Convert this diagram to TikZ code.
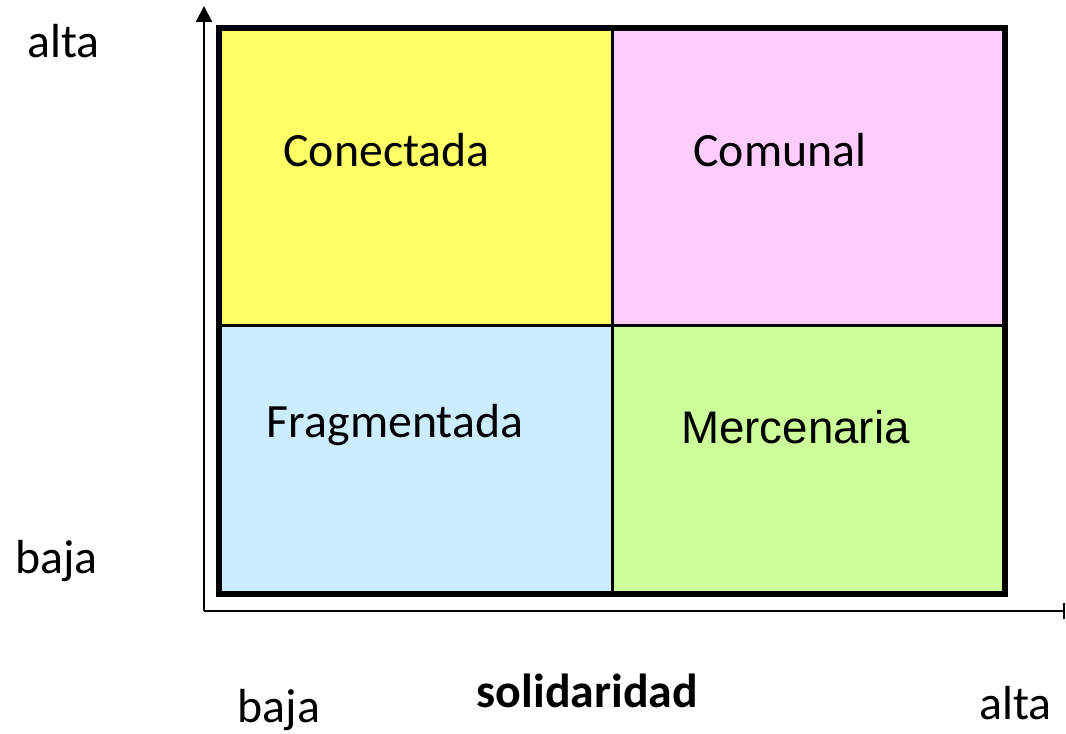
\documentclass[tikz,border=0pt]{standalone}
\usepackage{fontspec}
\setmainfont{Carlito}
\newfontfamily\arialfont{Liberation Sans}
\usetikzlibrary{arrows.meta}
\definecolor{giallo}{HTML}{FFFF66}
\definecolor{rosa}{HTML}{FFCCFF}
\definecolor{celeste}{HTML}{CCECFF}
\definecolor{verde}{HTML}{CCFF99}
\begin{document}
\begin{tikzpicture}[x=0.025cm,y=-0.025cm,
  lab/.style={anchor=base,inner sep=0pt,font=\fontsize{34}{40}\selectfont},
  asse/.style={line width=1.5pt}]

\useasboundingbox (0,0) rectangle (1066,734);

%quadranti
\coordinate (o) at (219,28);
\coordinate (m) at (612.5,325.5);
\coordinate (z) at (1005,594);

\draw[fill=giallo,draw=none] (o) rectangle (m);
\draw[fill=rosa,draw=none] (m |- o) rectangle (z |- m);
\draw[fill=celeste,draw=none] (o |- m) rectangle (m |- z);
\draw[fill=verde,draw=none] (m) rectangle (z);

\draw[line width=2.2pt] (m |- o) -- (m |- z);
\draw[line width=2.2pt] (o |- m) -- (z |- m);
\draw[line width=4.3pt] (o) rectangle (z);

%assi
\coordinate (zero) at (204,611);
\coordinate (ytop) at (204,6);
\coordinate (xend) at (1065,611);

\draw[asse,-{Triangle[length=0.4cm,width=0.4cm]}] (zero) -- (ytop);
\draw[asse,-{Bar[width=0.4cm]}] (zero) -- (xend);

%etichette
\node[lab] (conectada) at (386.5,167) {Conectada};
\node[lab] (comunal) at (780,167) {Comunal};
\node[lab] (fragmentada) at (395,438) {Fragmentada};
\node[lab,font=\arialfont\fontsize{32.5}{40}\selectfont] (mercenaria) at (795.5,444) {Mercenaria};

\node[lab] (yalta) at (63.5,58) {alta};
\node[lab] (ybaja) at (56.5,573) {baja};
\node[lab] (xbaja) at (279,722) {baja};
\node[lab,font=\fontsize{34}{40}\selectfont\bfseries] (solid) at (587.5,707) {solidaridad};
\node[lab] (xalta) at (1015.5,719) {alta};

\end{tikzpicture}
\end{document}
